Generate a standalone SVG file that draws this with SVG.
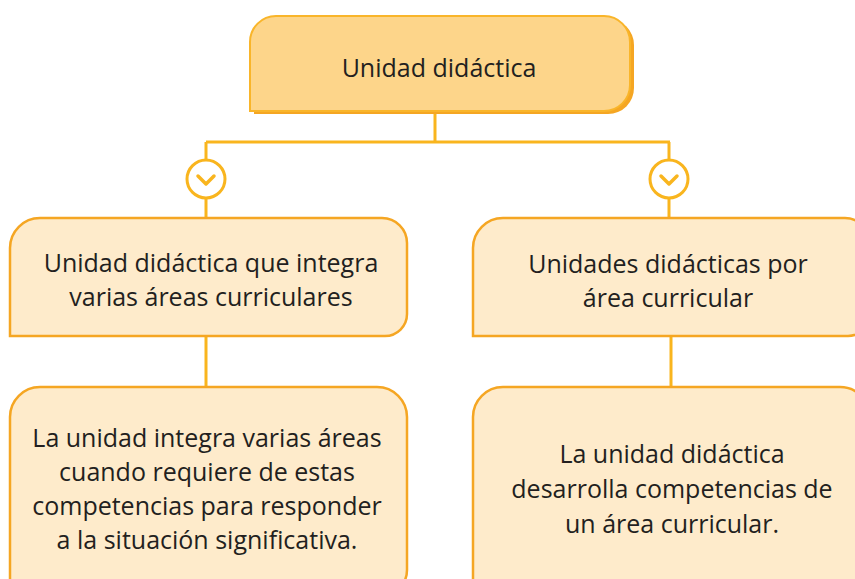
<svg xmlns="http://www.w3.org/2000/svg" width="855" height="579" viewBox="0 0 855 579">
<style>
.t{font-family:"Open Sans","Noto Sans","Liberation Sans",sans-serif;font-size:25px;fill:#231F20;text-anchor:middle}
.box{fill:#FEEBCB;stroke:#F5A623;stroke-width:2.5}
.con{fill:none;stroke:#F9B51E;stroke-width:3}
.circ{fill:#FFFFFF;stroke:#F9B51E;stroke-width:3}
.chev{fill:none;stroke:#F9B51E;stroke-width:3.5;stroke-linecap:round;stroke-linejoin:round}
</style>
<rect width="855" height="579" fill="#FFFFFF"/>
<g id="connectors">
<path class="con" d="M435,111 V142 M206,142 H670 M206,142 V160 M206,198 V218 M669,142 V160 M669,198 V218 M206,336 V387 M671,336 V387"/>
<circle class="circ" cx="206" cy="179" r="19"/>
<path class="chev" d="M198,176 L206,184 L214,176"/>
<circle class="circ" cx="669" cy="179" r="19"/>
<path class="chev" d="M661,176 L669,184 L677,176"/>
</g>
<g id="top">
<path d="M254,114 L254,45 A26,26 0 0 1 280,19 L608,19 A26,26 0 0 1 634,45 L634,88 A26,26 0 0 1 608,114 Z" fill="#F5A623"/>
<path d="M250,111 L250,42 A26,26 0 0 1 276,16 L604,16 A26,26 0 0 1 630,42 L630,85 A26,26 0 0 1 604,111 Z" fill="#FDD58A" stroke="#F9B52A" stroke-width="2"/>
<text class="t" x="439" y="77">Unidad didáctica</text>
</g>
<g id="mid-left">
<path class="box" d="M10,336 L10,248 A30,30 0 0 1 40,218 L382,218 A25,25 0 0 1 407,243 L407,314 A22,22 0 0 1 385,336 Z"/>
<text class="t" x="211" y="272">Unidad didáctica que integra</text>
<text class="t" x="211" y="306">varias áreas curriculares</text>
</g>
<g id="mid-right">
<path class="box" d="M473,336 L473,248 A30,30 0 0 1 503,218 L845,218 A25,25 0 0 1 870,243 L870,314 A22,22 0 0 1 848,336 Z"/>
<text class="t" x="668" y="273">Unidades didácticas por</text>
<text class="t" x="668" y="307">área curricular</text>
</g>
<g id="bottom-left">
<path class="box" d="M10,600 L10,417 A30,30 0 0 1 40,387 L377,387 A30,30 0 0 1 407,417 L407,570 A25,25 0 0 1 382,595 Z"/>
<text class="t" x="207" y="447">La unidad integra varias áreas</text>
<text class="t" x="207" y="481">cuando requiere de estas</text>
<text class="t" x="207" y="515">competencias para responder</text>
<text class="t" x="207" y="549">a la situación significativa.</text>
</g>
<g id="bottom-right">
<path class="box" d="M473,600 L473,417 A30,30 0 0 1 503,387 L840,387 A30,30 0 0 1 870,417 L870,600 Z"/>
<text class="t" x="672" y="463">La unidad didáctica</text>
<text class="t" x="672" y="498">desarrolla competencias de</text>
<text class="t" x="672" y="533">un área curricular.</text>
</g>
</svg>
